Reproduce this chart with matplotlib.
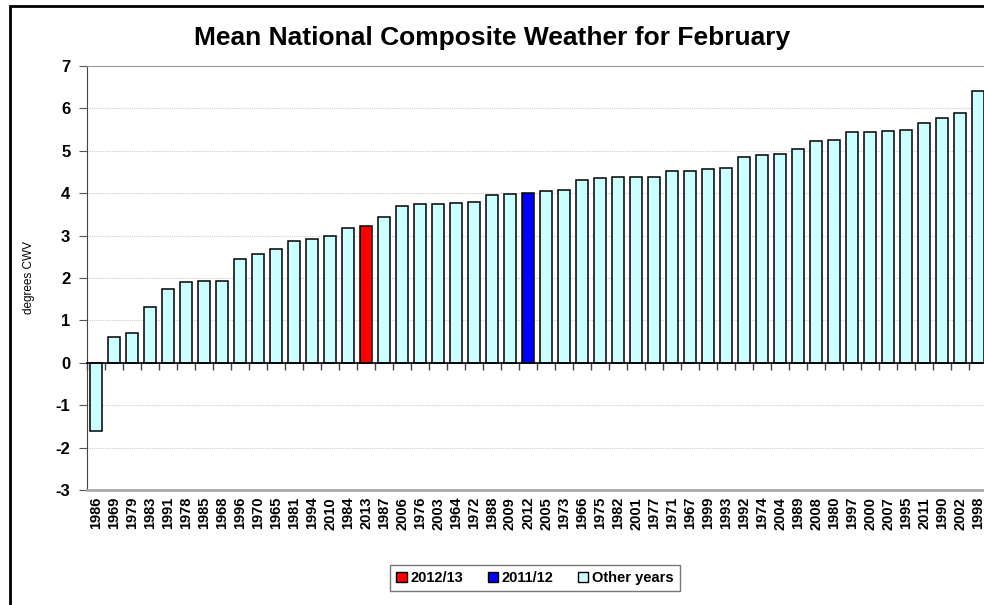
import numpy as np
import matplotlib.pyplot as plt
from matplotlib.patches import Patch, Rectangle

plt.rcParams['font.family'] = ['Liberation Sans', 'DejaVu Sans']

# Years, sorted by mean February CWV
years = ["1986", "1969", "1979", "1983", "1991", "1978", "1985", "1968", "1996", "1970",
         "1965", "1981", "1994", "2010", "1984", "2013", "1987", "2006", "1976", "2003",
         "1964", "1972", "1988", "2009", "2012", "2005", "1973", "1966", "1975", "1982",
         "2001", "1977", "1971", "1967", "1999", "1993", "1992", "1974", "2004", "1989",
         "2008", "1980", "1997", "2000", "2007", "1995", "2011", "1990", "2002", "1998"]
cwv = [-1.62, 0.60, 0.71, 1.32, 1.73, 1.91, 1.92, 1.93, 2.44, 2.56,
       2.68, 2.87, 2.93, 2.99, 3.19, 3.22, 3.44, 3.69, 3.74, 3.74,
       3.76, 3.80, 3.95, 3.97, 4.00, 4.05, 4.07, 4.31, 4.36, 4.38,
       4.38, 4.38, 4.52, 4.53, 4.56, 4.60, 4.86, 4.89, 4.93, 5.04,
       5.23, 5.26, 5.44, 5.44, 5.47, 5.49, 5.66, 5.78, 5.89, 6.40]
highlight = {"2013": "#FF0000", "2012": "#0000FF"}
OTHER = "#CCFFFF"

W, H = 984, 605
fig = plt.figure(figsize=(W / 100, H / 100), dpi=100)
ax = fig.add_axes([87 / W, 1 - 490 / H, 900 / W, 424 / H])

x = np.arange(len(years))
colors = [highlight.get(y, OTHER) for y in years]
ax.bar(x, cwv, width=0.7, color=colors, edgecolor='black', linewidth=1.1, zorder=3)

ax.set_xlim(-0.5, len(years) - 0.5)
ax.set_ylim(-3, 7)
ax.set_yticks(range(-3, 8))
ax.set_yticklabels([str(v) for v in range(-3, 8)], fontsize=12, fontweight='bold')
ax.tick_params(axis='y', length=6, color='#555555', pad=6)
ax.grid(axis='y', color='#cccccc', linestyle=(0, (1, 1)), linewidth=0.8, zorder=0)

ax.set_xticks(x)
ax.set_xticklabels(years, rotation=90, fontsize=10.5, fontweight='bold')
ax.tick_params(axis='x', length=0, pad=5)

ax.spines['left'].set_color('#444444')
ax.spines['top'].set_color('#999999')
ax.spines['bottom'].set_color('#aaaaaa')
ax.spines['bottom'].set_linewidth(2)
ax.spines['right'].set_visible(False)

# category axis crossing at zero
zero_ax = ax.secondary_xaxis(0.3)
zero_ax.set_xticks(np.arange(len(years) + 1) - 0.5)
zero_ax.set_xticklabels([])
zero_ax.tick_params(length=5, color='#444444', width=1)
zero_ax.spines['bottom'].set_color('black')
zero_ax.spines['bottom'].set_linewidth(1.2)
zero_ax.set_zorder(4)

ax.set_ylabel("degrees CWV", fontsize=8.5)
ax.yaxis.set_label_coords(-0.058, 0.5)

fig.text(0.5, 1 - 38 / H, "Mean National Composite Weather for February",
         ha='center', va='center', fontsize=19, fontweight='bold')

handles = [Patch(facecolor="#FF0000", edgecolor='black', label="2012/13"),
           Patch(facecolor="#0000FF", edgecolor='black', label="2011/12"),
           Patch(facecolor=OTHER, edgecolor='black', label="Other years")]
leg = fig.legend(handles=handles, loc='center', bbox_to_anchor=(535 / W, 1 - 578 / H),
                 ncol=3, frameon=True, fancybox=False, edgecolor='#555555',
                 prop={'size': 10.5, 'weight': 'bold'}, handlelength=0.7, handleheight=0.7,
                 handletextpad=0.25, columnspacing=1.7, borderpad=0.4)
leg.get_frame().set_linewidth(1)

# outer chart border
fig.add_artist(Rectangle((10 / W, -0.1), 1.1, 1.1 - 6 / H, transform=fig.transFigure,
                         fill=False, edgecolor='black', linewidth=2))

fig.savefig("out.png", dpi=100)
